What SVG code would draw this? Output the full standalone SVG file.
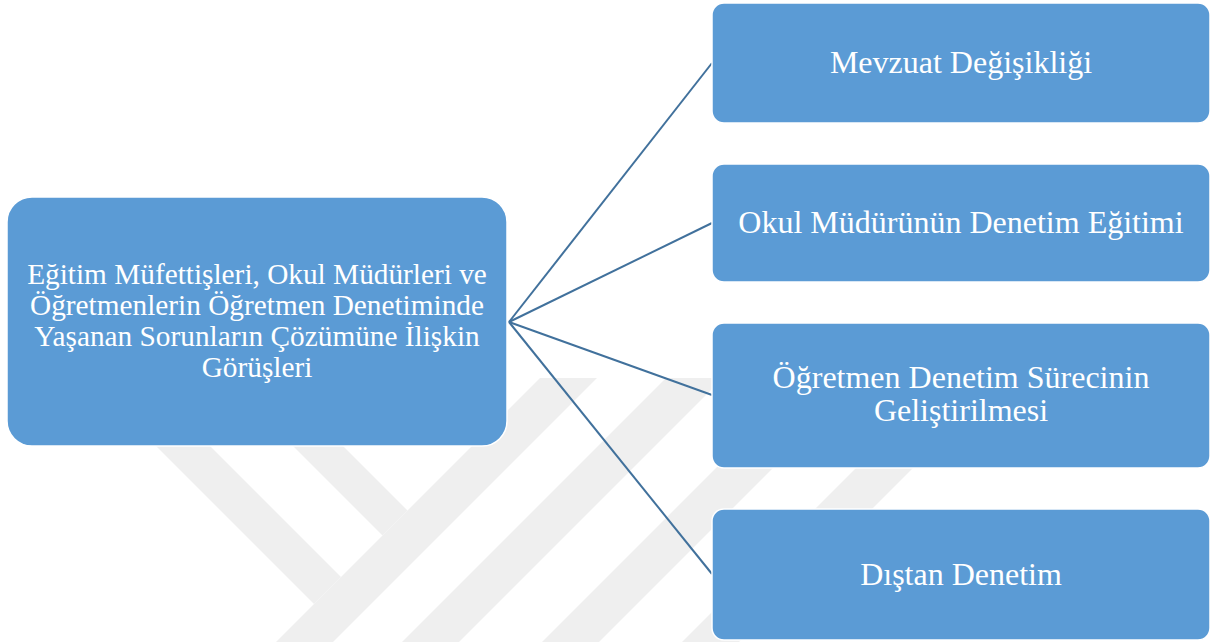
<svg xmlns="http://www.w3.org/2000/svg" width="1211" height="642" viewBox="0 0 1211 642">
  <defs>
    <style>
      .node { fill: #5b9bd5; stroke: #ffffff; stroke-width: 1.5; }
      .label { fill: #ffffff; font-family: "Liberation Serif", "Times New Roman", serif; text-anchor: middle; }
      .root-label { font-size: 29.3px; }
      .leaf-label { font-size: 32px; }
      .link { stroke: #41719c; stroke-width: 2; fill: none; }
      .mark { fill: #efefef; }
    </style>
  </defs>

  <rect width="1211" height="642" fill="#ffffff"/>

  <!-- background emblem: diagonal stripes -->
  <g id="emblem">
    <polygon class="mark" points="88,378 142,378 341,577 314,604"/>
    <polygon class="mark" points="225,378 275,378 407.5,510.5 382.5,535.5"/>
    <polygon class="mark" points="540,378 597,378 333,642 276,642"/>
    <polygon class="mark" points="666,378 723,378 459,642 402,642"/>
    <polygon class="mark" points="806,378 863,378 599,642 542,642"/>
    <polygon class="mark" points="946,378 1003,378 739,642 682,642"/>
  </g>

  <!-- connectors from the root to each branch -->
  <g id="connectors">
    <line class="link" x1="509" y1="322" x2="712" y2="63"/>
    <line class="link" x1="509" y1="322" x2="712" y2="223"/>
    <line class="link" x1="509" y1="322" x2="712" y2="395"/>
    <line class="link" x1="509" y1="322" x2="712" y2="574"/>
  </g>

  <g id="root">
    <rect class="node" x="7" y="197" width="500" height="249" rx="25" ry="25"/>
    <text class="label root-label" x="257" y="284">Eğitim Müfettişleri, Okul Müdürleri ve</text>
    <text class="label root-label" x="257" y="315">Öğretmenlerin Öğretmen Denetiminde</text>
    <text class="label root-label" x="257" y="346">Yaşanan Sorunların Çözümüne İlişkin</text>
    <text class="label root-label" x="257" y="377">Görüşleri</text>
  </g>

  <g id="mevzuat">
    <rect class="node" x="712" y="3" width="498" height="120" rx="12" ry="12"/>
    <text class="label leaf-label" x="961" y="73">Mevzuat Değişikliği</text>
  </g>

  <g id="mudur-egitimi">
    <rect class="node" x="712" y="164" width="498" height="118" rx="12" ry="12"/>
    <text class="label leaf-label" x="961" y="233">Okul Müdürünün Denetim Eğitimi</text>
  </g>

  <g id="surec-gelistirme">
    <rect class="node" x="712" y="323" width="498" height="145" rx="12" ry="12"/>
    <text class="label leaf-label" x="961" y="388">Öğretmen Denetim Sürecinin</text>
    <text class="label leaf-label" x="961" y="421">Geliştirilmesi</text>
  </g>

  <g id="distan-denetim">
    <rect class="node" x="712" y="509" width="498" height="131" rx="12" ry="12"/>
    <text class="label leaf-label" x="961" y="585">Dıştan Denetim</text>
  </g>
</svg>
